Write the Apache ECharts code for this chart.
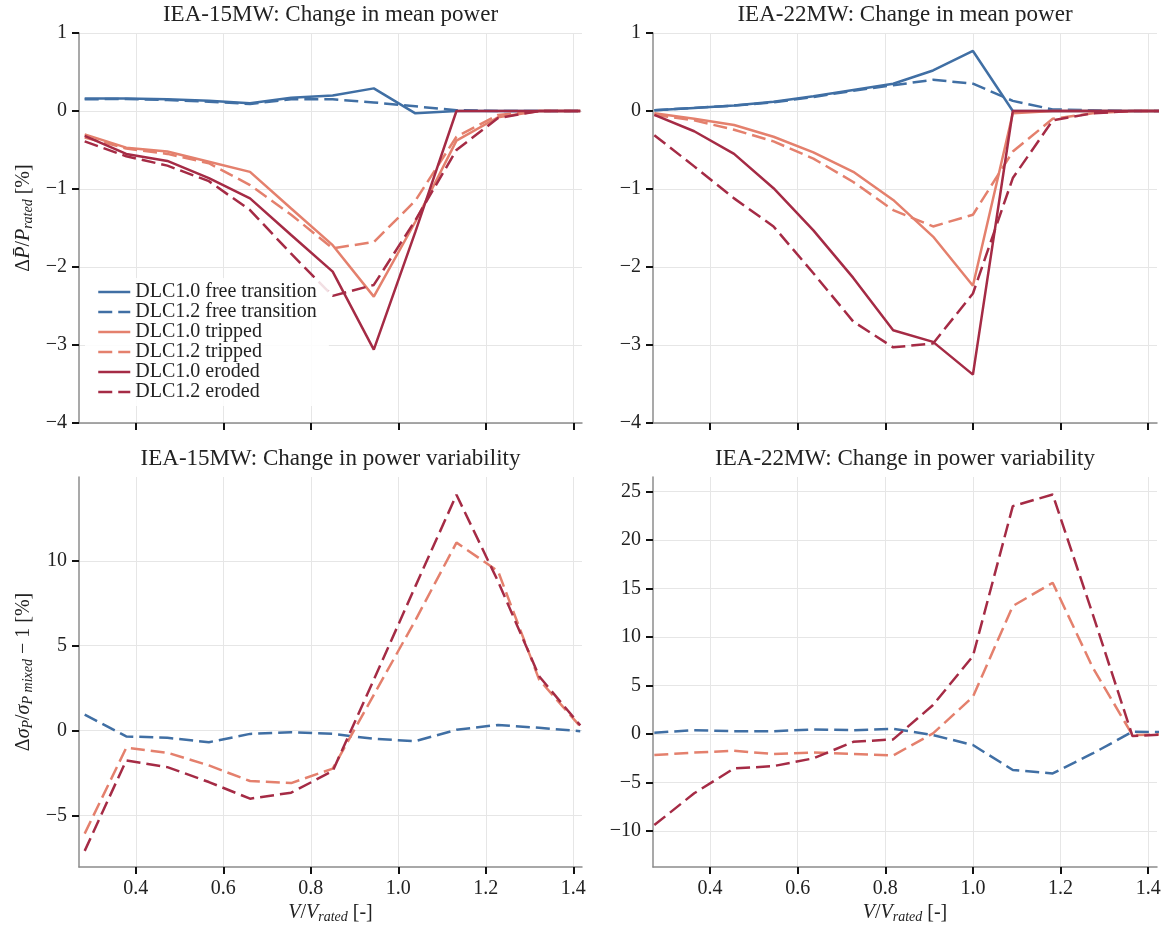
<!DOCTYPE html>
<html>
<head>
<meta charset="utf-8">
<title>Change in mean power and power variability</title>
<script src="https://cdn.jsdelivr.net/npm/echarts@6/dist/echarts.min.js"></script>
<style>
  html, body { margin: 0; padding: 0; background: #fff; }
  #chart { width: 1165px; height: 928px; }
</style>
</head>
<body>
<div id="chart"></div>
<script>
// V / V_rated of every wind speed bin
const x15 = [0.283, 0.378, 0.472, 0.567, 0.661, 0.755, 0.850, 0.944, 1.039, 1.133, 1.228, 1.322, 1.416]
const x22 = [0.273, 0.364, 0.455, 0.545, 0.636, 0.727, 0.818, 0.909, 1.000, 1.091, 1.182, 1.273, 1.364, 1.455]

// IEA-15MW: change in mean power [%]
const mean15Free10 = [0.16, 0.16, 0.15, 0.13, 0.10, 0.17, 0.20, 0.29, -0.03, 0, 0, 0, 0]
const mean15Free12 = [0.15, 0.155, 0.14, 0.12, 0.09, 0.15, 0.15, 0.11, 0.06, 0.01, 0, 0, 0]
const mean15Trip10 = [-0.30, -0.47, -0.52, -0.65, -0.78, -1.25, -1.72, -2.38, -1.42, -0.38, -0.08, 0, 0]
const mean15Trip12 = [-0.34, -0.48, -0.55, -0.67, -0.95, -1.33, -1.76, -1.68, -1.15, -0.33, -0.05, 0, 0]
const mean15Ero10 = [-0.32, -0.55, -0.64, -0.86, -1.12, -1.59, -2.06, -3.06, -1.55, 0, 0, 0, 0]
const mean15Ero12 = [-0.39, -0.58, -0.70, -0.90, -1.27, -1.83, -2.37, -2.23, -1.40, -0.50, -0.09, 0, 0]

// IEA-22MW: change in mean power [%]
const mean22Free10 = [0.01, 0.04, 0.07, 0.12, 0.19, 0.27, 0.35, 0.52, 0.77, 0, 0, 0, 0, 0]
const mean22Free12 = [0.01, 0.04, 0.07, 0.11, 0.18, 0.26, 0.33, 0.40, 0.35, 0.13, 0.02, 0.01, 0, 0]
const mean22Trip10 = [-0.03, -0.10, -0.18, -0.33, -0.53, -0.78, -1.14, -1.61, -2.24, -0.03, 0, 0, 0, 0]
const mean22Trip12 = [-0.05, -0.12, -0.24, -0.39, -0.61, -0.91, -1.27, -1.48, -1.33, -0.52, -0.10, -0.03, 0, 0]
const mean22Ero10 = [-0.05, -0.26, -0.55, -0.99, -1.53, -2.14, -2.81, -2.96, -3.38, 0, 0, 0, 0, 0]
const mean22Ero12 = [-0.31, -0.71, -1.12, -1.48, -2.08, -2.70, -3.03, -2.98, -2.34, -0.86, -0.12, -0.03, 0, 0]

// change in power variability [%] (DLC1.2 only)
const std15Free = [0.94, -0.35, -0.43, -0.69, -0.20, -0.10, -0.20, -0.49, -0.63, 0.04, 0.33, 0.16, -0.04]
const std15Trip = [-6.08, -1.02, -1.31, -2.06, -2.98, -3.10, -2.25, 2.1, 6.5, 11.08, 9.4, 3.0, 0.24]
const std15Ero = [-7.1, -1.76, -2.16, -3.04, -4.02, -3.67, -2.39, 3.0, 8.5, 13.9, 8.8, 3.2, 0.3]
const std22Free = [0.14, 0.40, 0.30, 0.30, 0.48, 0.40, 0.55, -0.10, -1.13, -3.70, -4.05, -2.00, 0.24, 0.20]
const std22Trip = [-2.16, -1.90, -1.72, -2.06, -1.90, -2.06, -2.20, 0.07, 3.85, 13.2, 15.6, 6.9, -0.10, 0]
const std22Ero = [-9.38, -6.10, -3.54, -3.30, -2.50, -0.80, -0.55, 3.0, 8.04, 23.5, 24.7, 12.4, -0.20, 0]

const xTicks = [0.4, 0.6, 0.8, 1.0, 1.2, 1.4]
const meanTicks = [-4, -3, -2, -1, 0, 1]
const std15Ticks = [-5, 0, 5, 10]
const std22Ticks = [-10, -5, 0, 5, 10, 15, 20, 25]

const names = [
  'DLC1.0 free transition', 'DLC1.2 free transition',
  'DLC1.0 tripped', 'DLC1.2 tripped',
  'DLC1.0 eroded', 'DLC1.2 eroded'
]
const BLUE = '#406fa4'
const SALMON = '#e4806d'
const DARKRED = '#a52b45'
const FONT = "'Liberation Serif', 'Times New Roman', serif"
const DASH = [14, 6]

const rich = {
  n: { fontSize: 20, fontFamily: FONT, color: '#222' },
  i: { fontSize: 20, fontFamily: FONT, fontStyle: 'italic', color: '#222' },
  sub: { fontSize: 14, fontFamily: FONT, fontStyle: 'italic', color: '#222', padding: [9, 0, 0, 0] }
}

const grids = [
  { left: 79, top: 33, width: 503, height: 390 },
  { left: 653, top: 33, width: 504, height: 390 },
  { left: 79, top: 477, width: 503, height: 390 },
  { left: 653, top: 477, width: 504, height: 390 }
]

function minus(v) {
  return String(v).replace('-', '\u2212')
}

function xAxis(idx, showLabel) {
  return {
    type: 'value',
    gridIndex: idx,
    min: 0.27,
    max: 1.42,
    name: showLabel ? '{i|V}{n|/}{i|V}{sub|rated}{n| [-]}' : '',
    nameLocation: 'middle',
    nameGap: 34,
    nameTextStyle: { rich: rich },
    axisLine: { onZero: false, lineStyle: { color: '#8c8c8c', width: 1.5 } },
    axisTick: { customValues: xTicks, length: 7, lineStyle: { color: '#111', width: 2 } },
    axisLabel: {
      show: showLabel,
      customValues: xTicks,
      formatter: v => v.toFixed(1),
      fontSize: 20,
      fontFamily: FONT,
      color: '#222',
      margin: 12
    },
    splitLine: { lineStyle: { color: '#e6e6e6', width: 1 } }
  }
}

function yAxis(idx, min, max, ticks, name, shift) {
  return {
    type: 'value',
    gridIndex: idx,
    min: min,
    max: max,
    name: name || '',
    nameLocation: 'middle',
    nameRotate: 90,
    nameGap: 44,
    nameTextStyle: { rich: rich, padding: [0, 0, 0, shift || 0] },
    axisLine: { onZero: false, lineStyle: { color: '#8c8c8c', width: 1.5 } },
    axisTick: { customValues: ticks, length: 7, lineStyle: { color: '#111', width: 2 } },
    axisLabel: {
      customValues: ticks,
      formatter: minus,
      fontSize: 20,
      fontFamily: FONT,
      color: '#222',
      margin: 12
    },
    splitLine: { lineStyle: { color: '#e6e6e6', width: 1 } }
  }
}

function line(name, xs, ys, color, dashed, idx) {
  return {
    name: name,
    type: 'line',
    xAxisIndex: idx,
    yAxisIndex: idx,
    symbol: 'none',
    silent: true,
    data: xs.map((x, i) => [x, ys[i]]),
    lineStyle: { color: color, width: 2.5, type: dashed ? DASH : 'solid' },
    itemStyle: { color: color }
  }
}

function title(text, idx) {
  const g = grids[idx]
  return {
    text: text,
    left: g.left + g.width / 2,
    top: g.top - 30,
    textAlign: 'center',
    padding: 0,
    textStyle: { fontSize: 23, fontWeight: 'normal', fontFamily: FONT, color: '#222' }
  }
}

const chart = echarts.init(document.getElementById('chart'))
chart.setOption({
  animation: false,
  backgroundColor: '#fff',
  title: [
    title('IEA-15MW: Change in mean power', 0),
    title('IEA-22MW: Change in mean power', 1),
    title('IEA-15MW: Change in power variability', 2),
    title('IEA-22MW: Change in power variability', 3)
  ],
  legend: {
    data: names,
    orient: 'vertical',
    left: 85,
    top: 278,
    padding: [4, 12, 4, 12],
    itemWidth: 32,
    itemHeight: 10,
    itemGap: 0,
    selectedMode: false,
    backgroundColor: 'rgba(255,255,255,0.85)',
    itemStyle: { opacity: 0 },
    lineStyle: { width: 2.5 },
    textStyle: { fontSize: 20, lineHeight: 20, fontFamily: FONT, color: '#222' }
  },
  grid: grids,
  xAxis: [xAxis(0, false), xAxis(1, false), xAxis(2, true), xAxis(3, true)],
  yAxis: [
    yAxis(0, -4, 1, meanTicks, '{n|\u0394}{i|P\u0304}{n|/}{i|P}{sub|rated}{n| [%]}', 20),
    yAxis(1, -4, 1, meanTicks),
    yAxis(2, -8.05, 14.95, std15Ticks, '{n|\u0394}{i|\u03c3}{sub|P}{n|/}{i|\u03c3}{sub|P mixed}{n| \u2212 1 [%]}'),
    yAxis(3, -13.7, 26.5, std22Ticks)
  ],
  series: [
    line(names[0], x15, mean15Free10, BLUE, false, 0),
    line(names[1], x15, mean15Free12, BLUE, true, 0),
    line(names[2], x15, mean15Trip10, SALMON, false, 0),
    line(names[3], x15, mean15Trip12, SALMON, true, 0),
    line(names[4], x15, mean15Ero10, DARKRED, false, 0),
    line(names[5], x15, mean15Ero12, DARKRED, true, 0),

    line(names[0], x22, mean22Free10, BLUE, false, 1),
    line(names[1], x22, mean22Free12, BLUE, true, 1),
    line(names[2], x22, mean22Trip10, SALMON, false, 1),
    line(names[3], x22, mean22Trip12, SALMON, true, 1),
    line(names[4], x22, mean22Ero10, DARKRED, false, 1),
    line(names[5], x22, mean22Ero12, DARKRED, true, 1),

    line(names[1], x15, std15Free, BLUE, true, 2),
    line(names[3], x15, std15Trip, SALMON, true, 2),
    line(names[5], x15, std15Ero, DARKRED, true, 2),

    line(names[1], x22, std22Free, BLUE, true, 3),
    line(names[3], x22, std22Trip, SALMON, true, 3),
    line(names[5], x22, std22Ero, DARKRED, true, 3)
  ]
})
</script>
</body>
</html>
